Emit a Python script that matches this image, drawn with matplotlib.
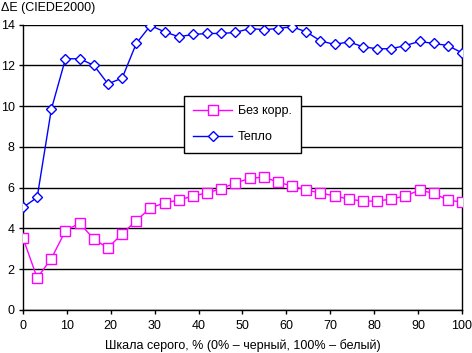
import matplotlib
matplotlib.use("Agg")
import matplotlib.pyplot as plt
import numpy as np

plt.rcParams['font.family'] = ['Liberation Sans', 'DejaVu Sans']

x_vals = [i * 100 / 31 for i in range(32)]
bez_korr = [3.53, 1.57, 2.52, 3.89, 4.26, 3.48, 3.04, 3.74, 4.38, 5.01, 5.25, 5.39,
            5.59, 5.74, 5.95, 6.23, 6.45, 6.52, 6.27, 6.08, 5.88, 5.74, 5.59, 5.44,
            5.34, 5.34, 5.44, 5.59, 5.88, 5.72, 5.39, 5.29]
teplo = [5.03, 5.52, 9.84, 12.32, 12.32, 12.0, 11.09, 11.37, 13.07, 13.95, 13.64, 13.4,
         13.51, 13.56, 13.56, 13.61, 13.8, 13.75, 13.8, 13.89, 13.64, 13.2, 13.02, 13.15,
         12.91, 12.81, 12.81, 12.97, 13.17, 13.07, 12.97, 12.61]
series_names = ["Без корр.", "Тепло"]
x_ticks = list(range(0, 101, 10))
y_ticks = list(range(0, 15, 2))

fig = plt.figure(figsize=(4.72, 3.53), dpi=100)
ax = fig.add_axes([23 / 472, 1 - 310 / 353, (462 - 23) / 472, (310 - 24.5) / 353])

ax.plot(x_vals, bez_korr, color='#FF00FF', lw=1, marker='s', ms=6.5,
        mfc='white', mec='#FF00FF', mew=1, label=series_names[0], zorder=3)
ax.plot(x_vals, teplo, color='#0000FF', lw=1, marker='D', ms=5.5,
        mfc='white', mec='#0000FF', mew=1, label=series_names[1], zorder=3)

ax.set_xlim(0, 100)
ax.set_ylim(0, 14)
ax.set_xticks(x_ticks)
ax.set_yticks(y_ticks)
ax.yaxis.grid(True, color='black', lw=1)
ax.set_axisbelow(True)
ax.spines['top'].set_visible(False)
for s in ['left', 'right', 'bottom']:
    ax.spines[s].set_color('black')
    ax.spines[s].set_linewidth(1)
ax.tick_params(axis='both', direction='out', length=3, width=1, labelsize=9, colors='black')
ax.tick_params(axis='x', pad=4)
ax.tick_params(axis='y', pad=3)

ax.set_xlabel("Шкала серого, % (0% – черный, 100% – белый)", fontsize=9, labelpad=5)
fig.text(1 / 472, 1 - 8 / 353, "ΔE (CIEDE2000)", fontsize=9, va='center', ha='left')

leg = ax.legend(loc='upper left', bbox_to_anchor=((184 - 23) / 439, (310 - 96) / 285.5),
                borderaxespad=0, fontsize=9, frameon=True, fancybox=False, framealpha=1,
                edgecolor='black', borderpad=0.75, labelspacing=1.1, handlelength=3.1,
                handletextpad=0.45)
leg.get_frame().set_linewidth(1)

fig.savefig("out.png", dpi=100)
